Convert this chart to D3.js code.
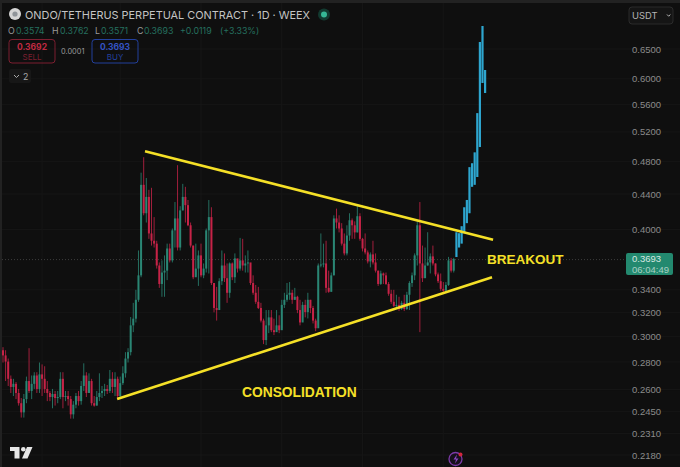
<html>

<head>
    <title>ONDO/TETHERUS 1D</title>
    <script src="https://d3js.org/d3.v7.min.js"></script>
    <style>
    body {
        margin: 0;
        padding: 0;
        background: #0f0f0f;
        font-family: "Inter", "Liberation Sans", sans-serif;
    }

    svg {
        display: block;
    }

    .priceAxis .domain,
    .priceAxis .tick line {
        display: none;
    }

    .priceAxis .tick text {
        fill: #8b8b8b;
        font-family: "Liberation Sans";
        font-size: 9.5px;
    }

    .callout {
        fill: #f5e027;
        font-family: "Liberation Sans";
        font-weight: bold;
    }
    </style>
</head>

<body>
    <svg width="680" height="467"></svg>
    <script>
    // candles, one entry per day
    var firstOpen = 0.289;
    var closes = [.285, .2803, .2676, .2618, .264, .2576, .2506, .2445, .2534, .266,
        .259, .264, .27, .2604, .2708, .2676, .2604, .2576, .2548, .2569,
        .2541, .2548, .2676, .2548, .2555, .2534, .2432, .2496, .2555, .252,
        .2625, .27, .2576, .266, .2506, .249, .2548, .2576, .259, .2604,
        .259, .2676, .2618, .2676, .2555, .2645, .2716, .2826, .2875, .309,
        .3146, .331, .3535, .451, .4178, .4366, .3957, .388, .385, .363,
        .3454, .3562, .358, .38, .368, .399, .412, .381, .421, .4366,
        .427, .4045, .383, .3517, .36, .373, .3535, .36, .399, .4135,
        .3463, .3238, .322, .348, .363, .3508, .3373, .365, .3517, .37,
        .36, .368, .363, .365, .366, .3463, .3373, .3292, .3238, .313,
        .297, .309, .3157, .305, .3034, .309, .305, .3265, .331, .3355,
        .3373, .331, .3337, .322, .3114, .3265, .3202, .331, .3238, .313,
        .3066, .363, .364, .365, .3418, .3382, .3535, .412, .4075, .401,
        .385, .375, .3935, .41, .4045, .3968, .4145, .39, .38, .376,
        .367, .374, .366, .358, .3454, .3553, .3535, .3454, .3364, .3292,
        .3256, .3265, .3229, .3283, .3229, .3355, .3463, .3535, .373, .4045,
        .365, .3508, .363, .366, .372, .365, .3544, .348, .3409, .3391,
        .3445, .368, .358, .3693];
    var highs = [.2914, .289, .2826, .27, .2676, .2653, .2604, .2541, .2569, .2692,
        .2906, .27, .2724, .2724, .2796, .2782, .2768, .266, .259, .2604,
        .259, .259, .2724, .2724, .259, .259, .2555, .252, .2576, .259,
        .266, .279, .2724, .2716, .2676, .2555, .259, .2716, .2625, .264,
        .2632, .274, .2724, .2724, .2692, .2692, .2768, .2875, .2906, .316,
        .3283, .34, .378, .466, .4858, .4594, .445, .4474, .4135, .388,
        .366, .368, .373, .385, .385, .401, .4306, .4755, .4258, .4522,
        .4486, .433, .4075, .383, .385, .378, .385, .365, .401, .433,
        .4246, .3463, .3427, .3508, .378, .375, .365, .366, .366, .375,
        .366, .391, .39, .373, .378, .365, .3535, .3445, .3427, .3283,
        .3146, .322, .322, .322, .3146, .322, .3175, .331, .3373, .3463,
        .3472, .34, .3418, .3346, .331, .3292, .331, .3373, .331, .3256,
        .3146, .365, .3957, .385, .388, .358, .3562, .4155, .423, .4155,
        .4068, .3957, .4045, .4178, .412, .4088, .427, .4178, .391, .3957,
        .378, .376, .388, .375, .358, .358, .3562, .3562, .3472, .34,
        .34, .3355, .3337, .3301, .3355, .3382, .348, .3562, .375, .4088,
        .4306, .383, .381, .397, .375, .383, .365, .3562, .3553, .3472,
        .3472, .3715, .3705, .3705];
    var lows = [.2796, .266, .2625, .2576, .2555, .2534, .249, .2411, .2411, .2506,
        .2576, .2534, .2604, .2576, .2576, .2555, .2576, .252, .252, .2472,
        .249, .2506, .2534, .2472, .252, .249, .2404, .2404, .2472, .249,
        .2496, .259, .2548, .2576, .249, .2483, .249, .252, .2541, .2555,
        .2569, .2576, .2576, .2555, .2541, .2541, .2632, .2685, .2796, .285,
        .3034, .3114, .3292, .3517, .4155, .4075, .39, .383, .381, .36,
        .3418, .3337, .3337, .349, .366, .366, .381, .378, .378, .421,
        .4075, .4035, .381, .3499, .3535, .3436, .3517, .3508, .3562, .3553,
        .3445, .32, .313, .3238, .3445, .3472, .3283, .3328, .349, .3463,
        .3562, .358, .358, .3562, .3562, .3445, .3355, .3274, .3229, .3114,
        .2938, .293, .3026, .3034, .301, .3066, .3026, .3066, .3238, .3292,
        .331, .3274, .331, .3193, .309, .3148, .3157, .3148, .3193, .3106,
        .3042, .309, .3612, .3612, .3373, .3373, .3382, .3535, .401, .3968,
        .383, .373, .373, .388, .39, .39, .3968, .388, .377, .374,
        .365, .3612, .364, .3562, .3436, .3445, .3454, .3445, .3346, .3274,
        .3247, .3238, .3211, .322, .3211, .322, .322, .3427, .349, .363,
        .3034, .3472, .36, .363, .3553, .363, .3526, .3463, .3391, .3373,
        .3373, .3436, .3562, .3562];

    // the blue projected bars after the breakout
    var projHighs = [.397, .396, .4035, .4246, .433, .473, .478, .4922, .547, .6624, .6915, .6143];
    var projLows = [.3714, .381, .385, .396, .4068, .4178, .4486, .451, .4606, .4993, .5932, .5774];

    var priceTicks = [.65, .6, .56, .52, .48, .44, .4, .34, .32, .3, .28, .26, .245, .231, .218];
    var timeGrid = [15, 45, 76, 107, 138, 169];

    // trendlines as [candle index, price]
    var upperLine = [[54.5, .4937], [188.1, .389]];
    var lowerLine = [[43.8, .2534], [187.7, .3517]];

    var lastPrice = .3693;

    var green = "#2a8674";
    var red = "#c62347";
    var blue = "#2ea6cf";
    var yellow = "#f5e027";

    var totalCandles = closes.length + projHighs.length;
    var x = d3.scaleLinear().domain([0, totalCandles - 1]).range([3, 485]);
    var y = d3.scaleLog().domain([.218, .65]).range([455, 49]);

    var svg = d3.select("svg");

    // frame strips
    svg.append("rect").attr("width", 680).attr("height", 3).attr("fill", "#222");
    svg.append("rect").attr("width", 2).attr("height", 467).attr("fill", "#222");

    // griglia
    svg.append("g").selectAll("line").data(priceTicks).enter().append("line")
        .attr("x1", 2).attr("x2", 680)
        .attr("y1", function(d) { return y(d) })
        .attr("y2", function(d) { return y(d) })
        .attr("stroke", "#161616");
    svg.append("g").selectAll("line").data(timeGrid).enter().append("line")
        .attr("x1", function(d) { return x(d) })
        .attr("x2", function(d) { return x(d) })
        .attr("y1", 3).attr("y2", 467)
        .attr("stroke", "#161616");

    // last price line
    svg.append("line")
        .attr("x1", 2).attr("x2", 626)
        .attr("y1", y(lastPrice) + .5).attr("y2", y(lastPrice) + .5)
        .attr("stroke", "#3d3d3d")
        .attr("stroke-dasharray", "1,2");

    // candles
    var candles = closes.map(function(c, i) {
        return { i: i, open: i == 0 ? firstOpen : closes[i - 1], close: c, high: highs[i], low: lows[i] };
    });

    function candleColour(d) {
        return d.close >= d.open ? green : red;
    }

    var groups = svg.append("g").selectAll("g").data(candles).enter().append("g");
    groups.append("line")
        .attr("x1", function(d) { return x(d.i) })
        .attr("x2", function(d) { return x(d.i) })
        .attr("y1", function(d) { return y(d.high) })
        .attr("y2", function(d) { return y(d.low) })
        .attr("stroke", candleColour)
        .attr("stroke-opacity", .8);
    groups.append("rect")
        .attr("x", function(d) { return x(d.i) - 1 })
        .attr("width", 2)
        .attr("y", function(d) { return y(Math.max(d.open, d.close)) })
        .attr("height", function(d) { return Math.max(1, y(Math.min(d.open, d.close)) - y(Math.max(d.open, d.close))) })
        .attr("fill", candleColour);

    // projected bars
    svg.append("g").selectAll("rect").data(projHighs).enter().append("rect")
        .attr("x", function(d, i) { return x(closes.length + i) - 1 })
        .attr("width", 2.2)
        .attr("y", function(d) { return y(d) })
        .attr("height", function(d, i) { return y(projLows[i]) - y(d) })
        .attr("fill", blue);

    // trendlines
    var trend = d3.line()
        .x(function(d) { return x(d[0]) })
        .y(function(d) { return y(d[1]) });
    svg.append("g").selectAll("path").data([upperLine, lowerLine]).enter().append("path")
        .attr("d", trend)
        .attr("fill", "none")
        .attr("stroke", yellow)
        .attr("stroke-width", 2.6);

    svg.append("text").attr("class", "callout").attr("x", 487).attr("y", 264).attr("font-size", 13.5).text("BREAKOUT");
    svg.append("text").attr("class", "callout").attr("x", 242).attr("y", 397).attr("font-size", 13.8).text("CONSOLIDATION");

    // asse prezzi
    svg.append("g")
        .attr("class", "priceAxis")
        .attr("transform", "translate(632,0)")
        .call(d3.axisRight(y).tickValues(priceTicks).tickFormat(d3.format(".4f")).tickSize(0).tickPadding(0));

    // last price tag
    svg.append("rect").attr("x", 626).attr("y", 253).attr("width", 47).attr("height", 22).attr("rx", 2).attr("fill", "#23896f");
    svg.append("text").attr("x", 632).attr("y", 262).attr("font-size", 9.5).attr("font-family", "Liberation Sans").attr("fill", "#d8e8e2").text("0.3693");
    svg.append("text").attr("x", 632).attr("y", 273).attr("font-size", 9.5).attr("font-family", "Liberation Sans").attr("fill", "#a9d0c4").text("06:04:49");

    // header
    svg.append("circle").attr("cx", 15).attr("cy", 14).attr("r", 6).attr("fill", "#d5d5d5");
    svg.append("circle").attr("cx", 15).attr("cy", 14).attr("r", 2.6).attr("fill", "#8f9499");
    svg.append("text").attr("x", 25).attr("y", 19).attr("font-size", 10.9).attr("fill", "#c4c4c4").text("ONDO/TETHERUS PERPETUAL CONTRACT · 1D · WEEX");
    svg.append("circle").attr("cx", 324).attr("cy", 14.5).attr("r", 6).attr("fill", "#123a30");
    svg.append("circle").attr("cx", 324).attr("cy", 14.5).attr("r", 3).attr("fill", "#35b795");

    var ohlcRow = [["O", 8], ["0.3574", 16], ["H", 52], ["0.3762", 60], ["L", 95], ["0.3571", 101], ["C", 137], ["0.3693", 144], ["+0.0119", 180], ["(+3.33%)", 220]];
    svg.append("g").selectAll("text").data(ohlcRow).enter().append("text")
        .attr("x", function(d) { return d[1] })
        .attr("y", 34)
        .attr("font-size", 8.8)
        .attr("fill", function(d) { return d[0].length == 1 ? "#9a9a9a" : "#256f5f" })
        .text(function(d) { return d[0] });

    function tradeBox(bx, price, label, colour, textColour) {
        svg.append("rect").attr("x", bx).attr("y", 39.5).attr("width", 46).attr("height", 23.5).attr("rx", 3)
            .attr("fill", "none").attr("stroke", colour);
        svg.append("text").attr("x", bx + 23).attr("y", 50).attr("text-anchor", "middle").attr("font-size", 8.5).attr("font-weight", "bold").attr("fill", textColour).text(price);
        svg.append("text").attr("x", bx + 23).attr("y", 60).attr("text-anchor", "middle").attr("font-size", 8).attr("fill", colour).text(label);
    }
    tradeBox(9, "0.3692", "SELL", "#7d1f30", "#c02a42");
    tradeBox(92, "0.3693", "BUY", "#23409c", "#3453c4");
    svg.append("text").attr("x", 61).attr("y", 54).attr("font-size", 7.4).attr("fill", "#999").text("0.0001");

    svg.append("rect").attr("x", 9).attr("y", 69).attr("width", 22).attr("height", 14).attr("rx", 2).attr("fill", "#171717");
    svg.append("path").attr("d", "M14 75l2.5 2.5l2.5-2.5").attr("fill", "none").attr("stroke", "#aaa");
    svg.append("text").attr("x", 23).attr("y", 80).attr("font-size", 8.8).attr("fill", "#aaa").text("2");

    // unit selector
    svg.append("rect").attr("x", 629).attr("y", 7).attr("width", 44).attr("height", 17).attr("rx", 3).attr("fill", "#151515").attr("stroke", "#2b2b2b");
    svg.append("text").attr("x", 632).attr("y", 19).attr("font-size", 9.4).attr("fill", "#b5b5b5").text("USDT");
    svg.append("path").attr("d", "M667 14.5l1.7 1.7l1.7-1.7").attr("fill", "none").attr("stroke", "#bbb");

    // logo
    svg.append("path").attr("d", "M10 447h9.5v11.5h-5v-7.5h-4.5z M27 447h5.5l-5 11.5h-5.5z").attr("fill", "#e6e6e6");
    svg.append("circle").attr("cx", 23.3).attr("cy", 449.3).attr("r", 2.3).attr("fill", "#e6e6e6");

    // bolt badge
    svg.append("circle").attr("cx", 455.5).attr("cy", 459).attr("r", 6.5).attr("fill", "#16101c").attr("stroke", "#7c3aa8").attr("stroke-width", 1.3);
    svg.append("path").attr("d", "M457 454.5l-3.5 5h2.5l-1 4l3.5-5h-2.5z").attr("fill", "#8a46c4");
    svg.append("circle").attr("cx", 460.5).attr("cy", 454.5).attr("r", 2).attr("fill", "#d0263f");
    </script>
</body>

</html>
